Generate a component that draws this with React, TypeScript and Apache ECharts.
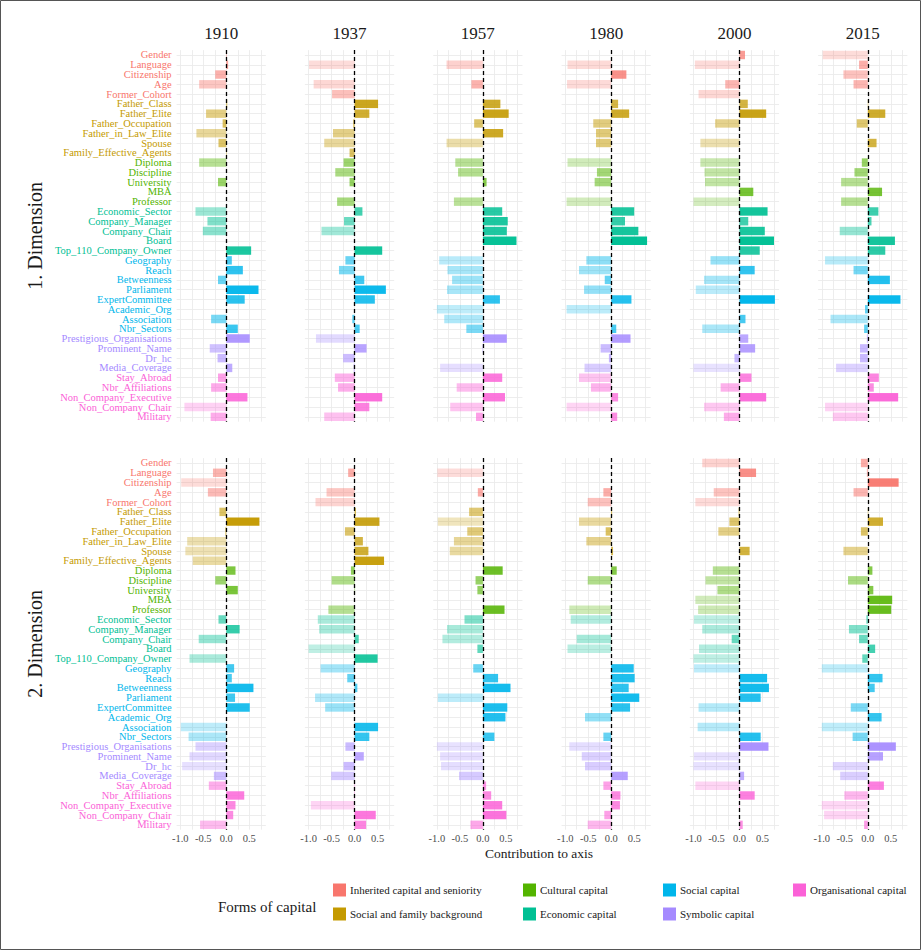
import React, { useEffect, useRef } from "react";
import * as echarts from "echarts";

const categories = [
  "Gender", "Language", "Citizenship", "Age", "Former_Cohort",
  "Father_Class", "Father_Elite", "Father_Occupation", "Father_in_Law_Elite", "Spouse", "Family_Effective_Agents",
  "Diploma", "Discipline", "University", "MBA", "Professor",
  "Economic_Sector", "Company_Manager", "Company_Chair", "Board", "Top_110_Company_Owner",
  "Geography", "Reach", "Betweenness", "Parliament", "ExpertCommittee", "Academic_Org", "Association", "Nbr_Sectors",
  "Prestigious_Organisations", "Prominent_Name", "Dr_hc", "Media_Coverage",
  "Stay_Abroad", "Nbr_Affiliations", "Non_Company_Executive", "Non_Company_Chair", "Military",
];
const categoryGroup = [
  0, 0, 0, 0, 0,
  1, 1, 1, 1, 1, 1,
  2, 2, 2, 2, 2,
  3, 3, 3, 3, 3,
  4, 4, 4, 4, 4, 4, 4, 4,
  5, 5, 5, 5,
  6, 6, 6, 6, 6,
];
const groupNames = [
  "Inherited capital and seniority",
  "Social and family background",
  "Cultural capital",
  "Economic capital",
  "Social capital",
  "Symbolic capital",
  "Organisational capital",
];
const groupColors = ["#F8766D", "#C49A00", "#53B400", "#00C094", "#00B6EB", "#A58AFF", "#FB61D7"];
const years = ["1910", "1937", "1957", "1980", "2000", "2015"];
const dimensions = ["1. Dimension", "2. Dimension"];
const tickValues = [-1, -0.5, 0, 0.5];
const gridValues = [-1, -0.75, -0.5, -0.25, 0, 0.25, 0.5, 0.75];

const dim1_1910 = [0.01, 0.04, -0.24, -0.59, 0, 0.02, -0.44, -0.08, -0.65, -0.17, 0.01, -0.59, 0, -0.18, 0, 0, -0.67, -0.41, -0.51, 0, 0.54, 0.12, 0.36, -0.18, 0.7, 0.4, 0, -0.33, 0.25, 0.51, -0.36, -0.19, 0.13, -0.18, -0.33, 0.46, -0.91, -0.34];
const dim1_1937 = [0, -0.99, 0, -0.89, -0.49, 0.51, 0.32, -0.03, -0.47, -0.66, -0.11, -0.24, -0.42, -0.11, 0, -0.38, 0.17, -0.23, -0.72, 0, 0.6, -0.2, -0.34, 0.21, 0.68, 0.44, 0, -0.05, 0.11, -0.84, 0.26, -0.25, -0.02, -0.43, -0.36, 0.6, 0.32, -0.66];
const dim1_1957 = [0, -0.79, 0, -0.25, 0, 0.38, 0.56, -0.19, 0.44, -0.79, 0, -0.6, -0.54, 0.08, 0, -0.63, 0.42, 0.54, 0.52, 0.73, 0, -0.95, -0.77, -0.67, -0.78, 0.37, -1.0, -0.84, -0.36, 0.52, -0.01, 0, -0.93, 0.42, -0.57, 0.48, -0.71, -0.15];
const dim1_1980 = [0, -0.95, 0.33, -0.96, 0, 0.15, 0.39, -0.39, -0.33, -0.33, 0, -0.95, -0.31, -0.36, 0, -0.97, 0.5, 0.3, 0.59, 0.78, 0, -0.54, -0.7, -0.14, -0.59, 0.44, -0.97, 0, 0.11, 0.42, -0.23, -0.05, -0.58, -0.7, -0.44, 0.15, -0.97, 0.13];
const dim1_2000 = [0.12, -0.97, 0, -0.31, -0.89, 0.18, 0.58, -0.53, 0, -0.85, 0, -0.85, -0.76, -0.75, 0.3, -1.0, 0.61, 0.19, 0.55, 0.75, 0.44, -0.63, 0.33, -0.77, -0.95, 0.77, 0, 0.13, -0.81, 0.19, 0.34, -0.11, -1.0, 0.26, -0.41, 0.58, -0.77, -0.34];
const dim1_2015 = [-0.98, -0.19, -0.53, -0.31, 0, 0.01, 0.38, -0.24, 0, 0.19, 0, -0.13, -0.29, -0.58, 0.31, -0.58, 0.23, 0.08, -0.61, 0.59, 0.38, -0.93, -0.31, 0.48, 0, 0.71, -0.06, -0.81, -0.08, -0.02, -0.17, -0.17, -0.69, 0.24, 0.13, 0.66, -0.93, -0.76];

const dim2_1910 = [0, -0.29, -0.98, -0.4, 0, -0.15, 0.72, -0.02, -0.85, -0.89, -0.73, 0.2, -0.24, 0.25, 0, 0, -0.17, 0.29, -0.6, 0, -0.8, 0.17, 0.12, 0.59, 0.19, 0.51, 0, -0.99, -0.82, -0.67, -0.8, -0.96, -0.27, -0.38, 0.39, 0.2, 0.15, -0.57];
const dim2_1937 = [0, -0.14, 0, -0.61, -0.85, 0.03, 0.54, -0.21, 0.18, 0.3, 0.64, -0.08, -0.5, 0.01, 0, -0.57, -0.8, -0.77, 0.09, -1.0, 0.5, -0.74, -0.16, 0.06, -0.86, -0.64, 0, 0.51, 0.32, -0.2, 0.2, -0.24, -0.51, 0.01, -0.01, -0.95, 0.46, 0.25];
const dim2_1957 = [0, -0.99, 0, -0.11, 0, -0.3, -0.98, -0.34, -0.63, -0.72, 0, 0.43, -0.16, -0.12, 0, 0.47, -0.4, -0.78, -0.88, -0.12, 0, -0.21, 0.33, 0.6, -0.98, 0.53, 0.49, 0, 0.25, -1.0, -0.93, -0.91, -0.52, 0.07, 0.18, 0.42, 0.51, -0.27];
const dim2_1980 = [0, 0, 0, -0.17, -0.51, 0.02, -0.7, -0.12, -0.54, 0.04, 0, 0.12, -0.51, 0.01, 0, -0.91, -0.88, 0, -0.75, -0.95, 0, 0.49, 0.51, 0.38, 0.61, 0.41, -0.57, 0, -0.17, -0.91, -0.64, -0.57, 0.36, -0.17, 0.2, 0.19, -0.15, -0.51];
const dim2_2000 = [-0.81, 0.36, 0, -0.56, -0.96, -0.02, -0.22, -0.46, 0, 0.22, 0, -0.58, -0.74, -0.48, -0.96, -0.9, -0.99, -0.81, -0.17, -0.88, -1.0, -0.99, 0.6, 0.64, 0.46, -0.89, 0, -0.91, 0.46, 0.63, -0.99, -1.0, 0.1, -0.96, 0.33, 0.01, 0, 0.07];
const dim2_2015 = [-0.15, -0.02, 0.67, -0.31, 0, 0.01, 0.33, -0.15, 0, -0.53, 0, 0.1, -0.43, 0.12, 0.53, 0.51, -0.03, -0.41, -0.19, 0.16, -0.12, -1.0, 0.32, 0.15, 0, -0.37, 0.3, -1.0, -0.33, 0.61, 0.33, -0.76, -0.6, 0.35, -0.51, -1.0, -0.95, -0.08];

const dimensionData = [
  [dim1_1910, dim1_1937, dim1_1957, dim1_1980, dim1_2000, dim1_2015],
  [dim2_1910, dim2_1937, dim2_1957, dim2_1980, dim2_2000, dim2_2015],
];

const SERIF = '"Liberation Serif", "DejaVu Serif", serif';

function alphaFor(v: number) {
  const a = 0.25 + (0.75 * (v + 1)) / 1.8;
  return Math.max(0.2, Math.min(1, a));
}

export default function App() {
  const ref = useRef<HTMLDivElement>(null);
  useEffect(() => {
    const chart = echarts.init(ref.current!, null, { renderer: "svg", width: 922, height: 951 });
    const zero0 = 226.3;
    const step = 128.3;
    const pxu = 46;
    const xmin = -1.08;
    const xmax = 0.86;
    const rowTops = [50.1, 458.1];
    const rowH = 371.6;

    const rich: any = {};
    groupColors.forEach((c, g) => {
      rich["g" + g] = { color: c, fontFamily: SERIF, fontSize: 10.5 };
    });

    const grids: any[] = [];
    const xAxes: any[] = [];
    const yAxes: any[] = [];
    const series: any[] = [];
    const graphics: any[] = [];

    for (let r = 0; r < 2; r++) {
      for (let c = 0; c < 6; c++) {
        const idx = r * 6 + c;
        const zero = zero0 + step * c;
        grids.push({
          left: zero + xmin * pxu,
          top: rowTops[r],
          width: (xmax - xmin) * pxu,
          height: rowH,
          containLabel: false,
        });
        xAxes.push({
          type: "value",
          gridIndex: idx,
          min: xmin,
          max: xmax,
          axisLine: { show: false },
          axisTick: { show: false },
          splitLine: { show: false },
          axisLabel: {
            show: r === 1,
            customValues: tickValues,
            formatter: (v: number) => v.toFixed(1),
            fontFamily: SERIF,
            fontSize: 10.5,
            color: "#4D4D4D",
            margin: 3,
          },
        });
        yAxes.push({
          type: "category",
          gridIndex: idx,
          data: categories,
          inverse: true,
          axisLine: { show: false },
          axisTick: { show: false },
          splitLine: { show: false },
          axisLabel: {
            show: c === 0,
            interval: 0,
            margin: 5,
            formatter: (v: string, i: number) => `{g${categoryGroup[i]}|${v}}`,
            rich,
          },
        });
        series.push({
          type: "line",
          xAxisIndex: idx,
          yAxisIndex: idx,
          data: [],
          silent: true,
          markLine: {
            silent: true,
            z: 1,
            symbol: ["none", "none"],
            label: { show: false },
            emphasis: { disabled: true },
            lineStyle: { color: "#EBEBEB", width: 0.9, type: "solid" },
            data: [
              ...gridValues.map((v) => ({ xAxis: v })),
              ...categories.map((cat) => ({ yAxis: cat })),
            ],
          },
        });
        const vals = dimensionData[r][c];
        series.push({
          type: "bar",
          xAxisIndex: idx,
          yAxisIndex: idx,
          barWidth: "86%",
          silent: true,
          z: 2,
          data: vals.map((v, i) => ({
            value: v,
            itemStyle: { color: groupColors[categoryGroup[i]], opacity: alphaFor(v) },
          })),
          markLine: {
            silent: true,
            z: 5,
            symbol: ["none", "none"],
            label: { show: false },
            emphasis: { disabled: true },
            lineStyle: { color: "#000000", width: 1.3, type: [4, 3] },
            data: [{ xAxis: 0 }],
          },
        });
        if (r === 0) {
          graphics.push({
            type: "text",
            x: zero + ((xmin + xmax) / 2) * pxu,
            y: 33,
            style: {
              text: years[c],
              fill: "#1A1A1A",
              font: `17px ${SERIF}`,
              textAlign: "center",
              textVerticalAlign: "middle",
            },
          });
        }
      }
      graphics.push({
        type: "text",
        x: 35,
        y: rowTops[r] + rowH / 2,
        rotation: Math.PI / 2,
        style: {
          text: dimensions[r],
          fill: "#1A1A1A",
          font: `20px ${SERIF}`,
          textAlign: "center",
          textVerticalAlign: "middle",
        },
      });
    }

    graphics.push({
      type: "text",
      x: 539,
      y: 853,
      style: {
        text: "Contribution to axis",
        fill: "#1A1A1A",
        font: `13.5px ${SERIF}`,
        textAlign: "center",
        textVerticalAlign: "middle",
      },
    });

    graphics.push({
      type: "text",
      x: 218,
      y: 907,
      style: {
        text: "Forms of capital",
        fill: "#1A1A1A",
        font: `15px ${SERIF}`,
        textAlign: "left",
        textVerticalAlign: "middle",
      },
    });
    const legendCols = [333, 523, 663, 793];
    const legendRows = [890, 914];
    groupNames.forEach((name, g) => {
      const col = Math.floor(g / 2);
      const row = g % 2;
      const x = legendCols[col];
      const y = legendRows[row];
      graphics.push({
        type: "rect",
        shape: { x, y: y - 6.5, width: 13, height: 13 },
        style: { fill: groupColors[g] },
      });
      graphics.push({
        type: "text",
        x: x + 17,
        y,
        style: {
          text: name,
          fill: "#1A1A1A",
          font: `11px ${SERIF}`,
          textAlign: "left",
          textVerticalAlign: "middle",
        },
      });
    });

    graphics.push({
      type: "rect",
      shape: { x: 0.5, y: 0.5, width: 920, height: 949 },
      style: { fill: "none", stroke: "#555555", lineWidth: 1 },
      z: 100,
    });

    chart.setOption({
      animation: false,
      backgroundColor: "#FFFFFF",
      grid: grids,
      xAxis: xAxes,
      yAxis: yAxes,
      series,
      graphic: graphics,
    });
    return () => chart.dispose();
  }, []);
  return (
    <div
      ref={ref}
      style={{ position: "fixed", left: 0, top: 0, width: 922, height: 951 }}
    />
  );
}
